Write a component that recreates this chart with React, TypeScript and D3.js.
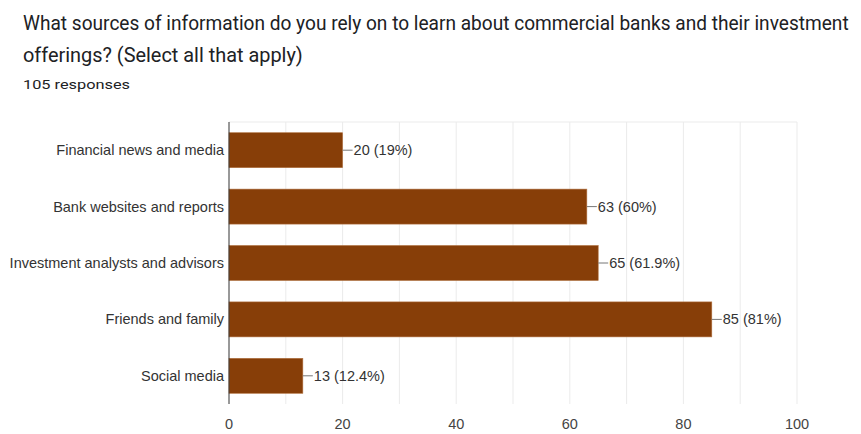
import React, { useLayoutEffect, useRef, useState } from "react";
import * as d3 from "d3";

const categories = [
  "Financial news and media",
  "Bank websites and reports",
  "Investment analysts and advisors",
  "Friends and family",
  "Social media",
];
const counts = [20, 63, 65, 85, 13];
const percents = ["19%", "60%", "61.9%", "81%", "12.4%"];
const xTicks = [0, 20, 40, 60, 80, 100];
const gridTicks = [10, 20, 30, 40, 50, 60, 70, 80, 90, 100];

const titleLine1 = "What sources of information do you rely on to learn about commercial banks and their investment";
const titleLine2 = "offerings? (Select all that apply)";
const subtitle = "105 responses";

function FitText({ x, y, width, fontSize, children, fill }: any) {
  const ref = useRef<SVGTextElement>(null);
  const [s, setS] = useState(1);
  useLayoutEffect(() => {
    if (ref.current) {
      const w = ref.current.getComputedTextLength();
      if (w > 0) setS(width / w);
    }
  }, [width, children]);
  return (
    <text ref={ref} transform={`translate(${x},${y}) scale(${s},1)`} fontSize={fontSize} fill={fill}>
      {children}
    </text>
  );
}

export default function App() {
  const W = 861, H = 434;
  const left = 229, right = 797, top = 122, bottom = 404;
  const x = d3.scaleLinear().domain([0, 100]).range([left, right]);
  const y = d3.scaleBand<string>().domain(categories).range([top, bottom]).paddingInner(0.38).paddingOuter(0.19);
  const font = "Roboto, Arial, sans-serif";
  const lab = "'Liberation Sans', Arial, sans-serif";
  return (
    <svg width={W} height={H} style={{ position: "absolute", left: 0, top: 0, background: "#fff" }} fontFamily={font}>
      <rect width={W} height={H} fill="#fff" />
      <FitText x={23} y={30} width={826} fontSize={20} fill="#202124">{titleLine1}</FitText>
      <FitText x={23} y={62} width={280} fontSize={20} fill="#202124">{titleLine2}</FitText>
      <FitText x={23} y={89} width={107} fontSize={13} fill="#202124">{subtitle}</FitText>
      <line x1={left} x2={right} y1={top} y2={top} stroke="#ebebeb" />
      {gridTicks.map((t) => (
        <line key={t} x1={x(t)} x2={x(t)} y1={top} y2={bottom} stroke="#ebebeb" />
      ))}
      {categories.map((c, i) => {
        const by = y(c)!;
        const bh = y.bandwidth();
        const xe = x(counts[i]);
        return (
          <g key={c}>
            <rect x={left} y={by} width={xe - left} height={bh} fill="#873e08" stroke="#b0703f" strokeWidth={0.6} />
            <text x={left - 5} y={by + bh / 2} dy="0.35em" textAnchor="end" fontSize={14.5} fontFamily={lab} fill="#333">{c}</text>
            <line x1={xe} x2={xe + 10} y1={by + bh / 2} y2={by + bh / 2} stroke="#777" />
            <text x={xe + 11} y={by + bh / 2} dy="0.35em" fontSize={14.5} fontFamily={lab} fill="#333">{`${counts[i]} (${percents[i]})`}</text>
          </g>
        );
      })}
      <line x1={left} x2={left} y1={top} y2={bottom} stroke="#333" />
      {xTicks.map((t) => (
        <text key={t} x={x(t)} y={429} textAnchor="middle" fontSize={14.5} fontFamily={lab} fill="#444">{t}</text>
      ))}
    </svg>
  );
}
